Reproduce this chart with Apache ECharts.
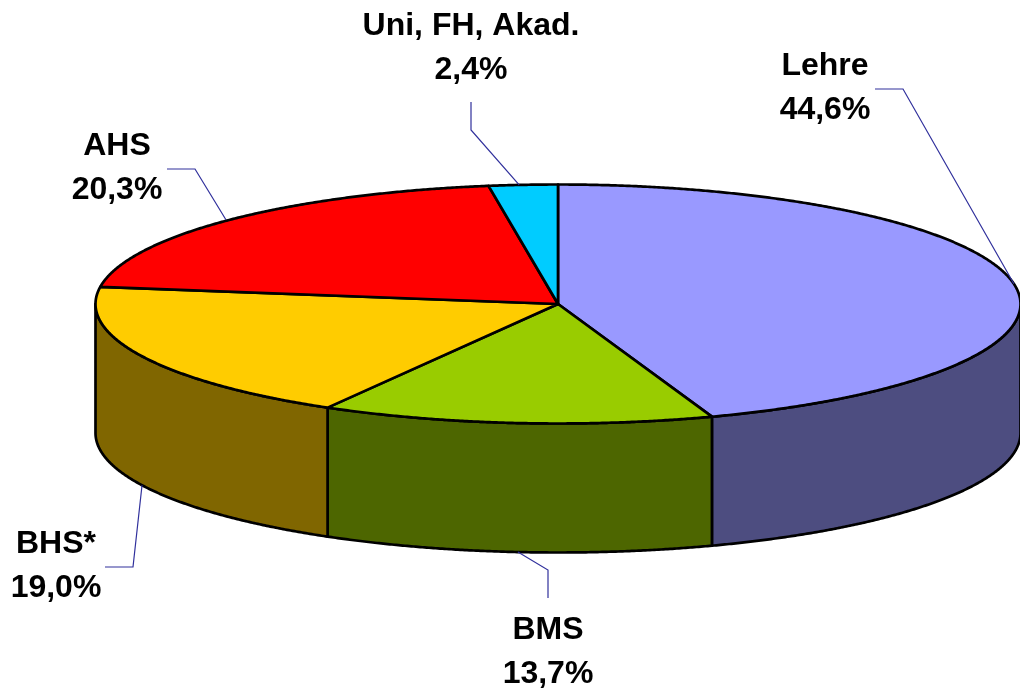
<!DOCTYPE html>
<html>
<head>
<meta charset="utf-8">
<style>html,body{margin:0;padding:0;background:#fff}#c{width:1020px;height:690px}</style>
<script src="https://cdn.jsdelivr.net/npm/echarts@6/dist/echarts.min.js"></script>
</head>
<body>
<div id="c"></div>
<script>
const categories = ['Lehre', 'BMS', 'BHS*', 'AHS', 'Uni, FH, Akad.'];
const shares = [44.6, 13.7, 19.0, 20.3, 2.4];
const topColors = ['#9999FF', '#99CC00', '#FFCC00', '#FF0000', '#00CCFF'];
const wallColors = ['#4D4D80', '#4D6600', '#806600', '#800000', '#006680'];

// Layout of the tilted disc
const cx = 558, cy = 304, rx = 462.5, ry = 119.5, depth = 129;
// Label centre x, first-line centre y, leader start, elbow and end nudge
const labelLayout = [
  { x: 825, y: 66, from: [875, 89], elbow: [903, 89], nudge: 0 },
  { x: 548, y: 630, from: [548, 598], elbow: [548, 570], nudge: 2 },
  { x: 56, y: 544, from: [105, 567], elbow: [133, 567], nudge: 0 },
  { x: 117, y: 146, from: [167, 169], elbow: [195, 169], nudge: -4 },
  { x: 471, y: 26, from: [471, 102], elbow: [471, 130], nudge: -4 }
];
const lineGap = 44;

const total = shares.reduce((a, b) => a + b, 0);
const starts = [];
shares.reduce((acc, v, i) => { starts[i] = acc; return acc + v; }, 0);
const ang = f => f / total * 2 * Math.PI;
const pt = (a, dy) => [cx + rx * Math.sin(a), cy - ry * Math.cos(a) + (dy || 0)];
function arc(a0, a1, dy) {
  const n = Math.max(2, Math.ceil(Math.abs(a1 - a0) / 0.005));
  const out = [];
  for (let k = 0; k <= n; k++) out.push(pt(a0 + (a1 - a0) * k / n, dy));
  return out;
}
const stroke = { stroke: '#000', lineWidth: 2.7, lineJoin: 'round' };

function renderWall(params, api) {
  const i = params.dataIndex;
  const a0 = Math.max(ang(starts[i]), Math.PI / 2);
  const a1 = Math.min(ang(starts[i] + api.value(0)), Math.PI * 1.5);
  if (a1 <= a0) return { type: 'group', children: [] };
  const pts = arc(a0, a1, 0).concat(arc(a1, a0, depth));
  return { type: 'polygon', shape: { points: pts }, style: Object.assign({ fill: wallColors[i] }, stroke) };
}
function renderTop(params, api) {
  const i = params.dataIndex;
  const a0 = ang(starts[i]);
  const a1 = ang(starts[i] + api.value(0));
  const pts = [[cx, cy]].concat(arc(a0, a1, 0));
  return { type: 'polygon', shape: { points: pts }, style: Object.assign({ fill: topColors[i] }, stroke) };
}
function renderLabel(params, api) {
  const i = params.dataIndex;
  const v = api.value(0);
  const mid = ang(starts[i] + v / 2);
  const front = Math.cos(mid) < 0;
  const L = labelLayout[i];
  const font = 'bold 32px "Liberation Sans", Arial, sans-serif';
  const txt = (t, y) => ({
    type: 'text', x: L.x, y: y,
    style: { text: t, font: font, fill: '#000', align: 'center', verticalAlign: 'middle' }
  });
  const end = pt(mid, front ? depth : 0);
  end[0] += L.nudge;
  return {
    type: 'group',
    children: [
      { type: 'polyline',
        shape: { points: [L.from, L.elbow, end] },
        style: { stroke: '#30309c', lineWidth: 1.2, fill: null } },
      txt(categories[i], L.y),
      txt(v.toFixed(1).replace('.', ',') + '%', L.y + lineGap)
    ]
  };
}
const seriesData = shares.map((v, i) => ({ name: categories[i], value: [v] }));
const chart = echarts.init(document.getElementById('c'), null, { renderer: 'canvas' });
chart.setOption({
  animation: false,
  backgroundColor: '#fff',
  series: [
    { type: 'custom', coordinateSystem: 'none', z: 1, renderItem: renderWall, data: seriesData, silent: true },
    { type: 'custom', coordinateSystem: 'none', z: 2, renderItem: renderTop, data: seriesData, silent: true },
    { type: 'custom', coordinateSystem: 'none', z: 3, renderItem: renderLabel, data: seriesData, silent: true }
  ]
});
</script>
</body>
</html>
